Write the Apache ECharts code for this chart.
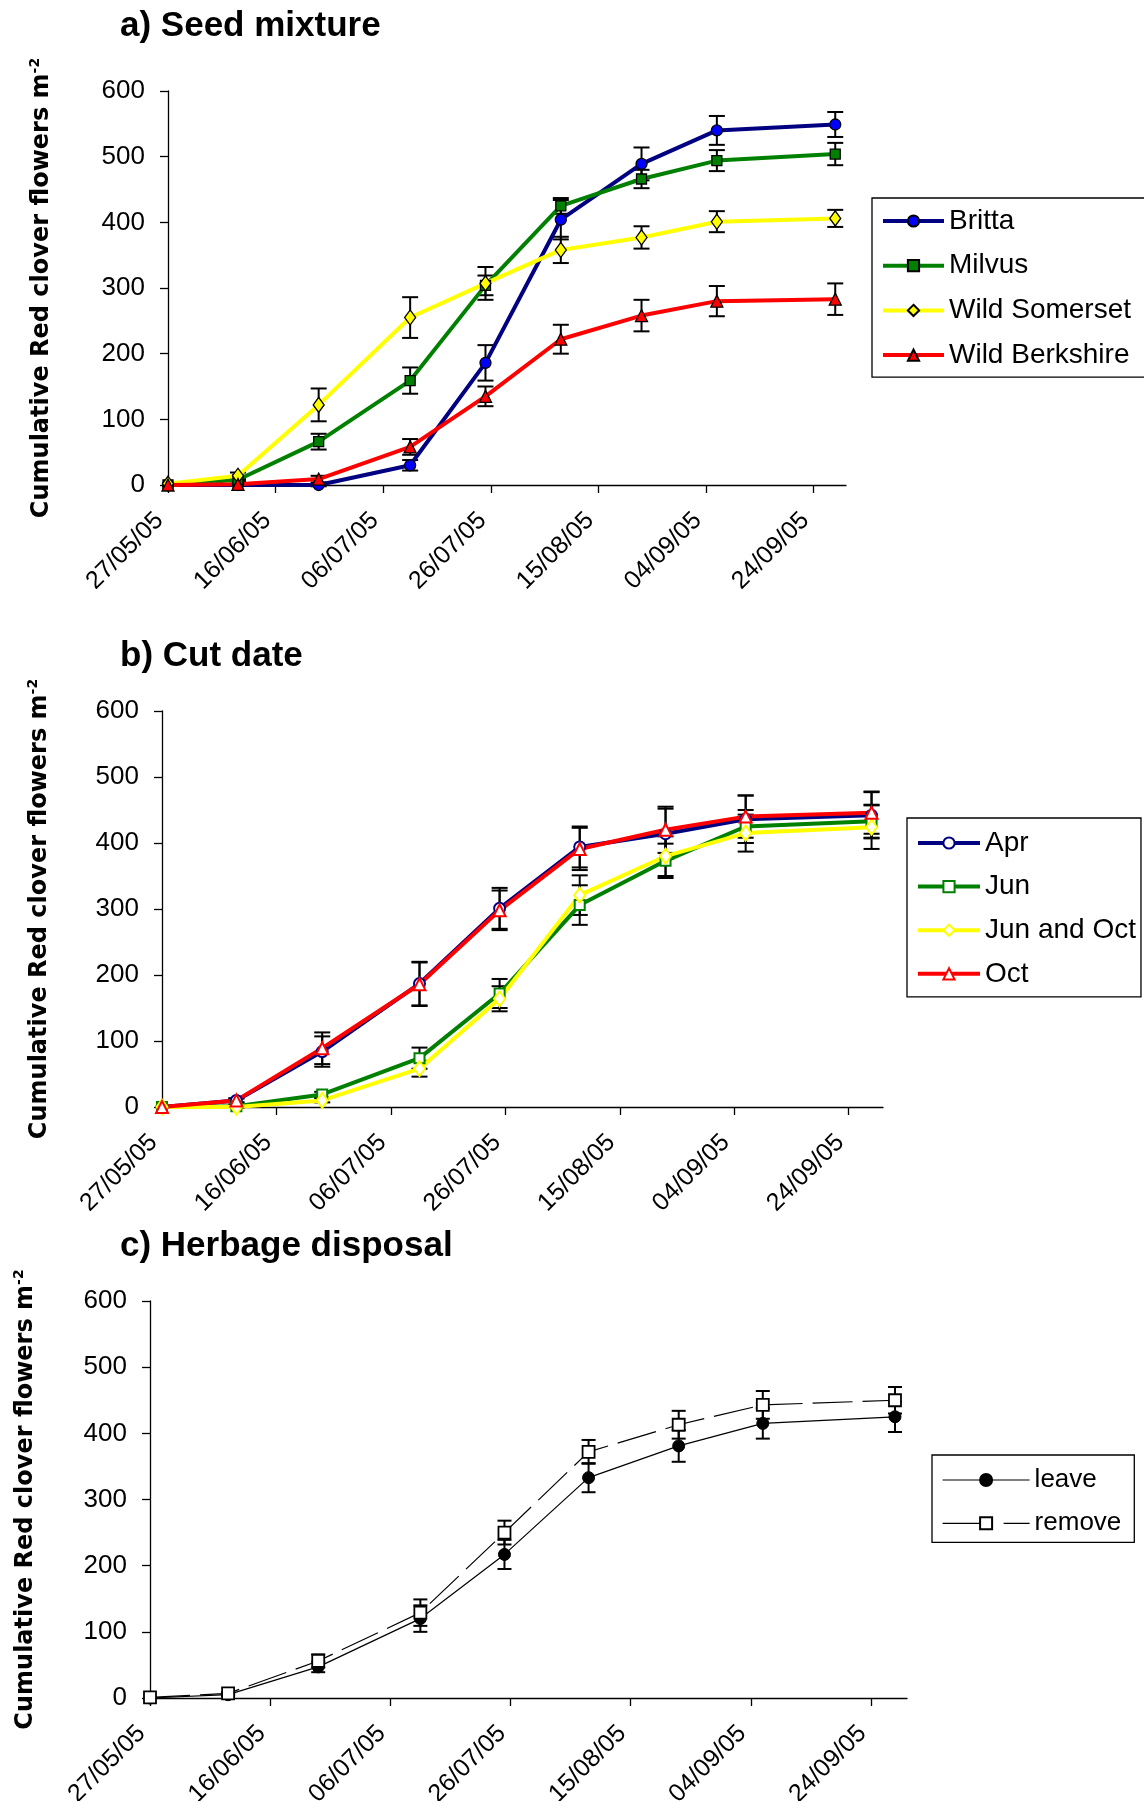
<!DOCTYPE html>
<html><head><meta charset="utf-8">
<script src="https://cdn.jsdelivr.net/npm/echarts@6/dist/echarts.min.js"></script>
<style>html,body{margin:0;padding:0;background:#fff}#c{width:1144px;height:1801px}</style>
</head><body><div id="c"></div>
<script>
// ---- data ----
const sampleDates = ['2005-05-27','2005-06-09','2005-06-24','2005-07-11','2005-07-25','2005-08-08','2005-08-23','2005-09-06','2005-09-28'];
const tickDates = ['2005-05-27','2005-06-16','2005-07-06','2005-07-26','2005-08-15','2005-09-04','2005-09-24'];
const tickLabels = ['27/05/05','16/06/05','06/07/05','26/07/05','15/08/05','04/09/05','24/09/05'];
const axisEndDate = '2005-09-30';

// a) Seed mixture
const britta      = [0, 0, 0, 30, 186, 404, 489, 540, 549];
const brittaErr   = [0, 0, 2, 8, 27, 30, 25, 22, 19];
const milvus      = [0, 8, 66, 159, 304, 425, 466, 494, 504];
const milvusErr   = [0, 2, 12, 20, 15, 12, 14, 16, 17];
const somerset    = [2, 14, 122, 255, 307, 358, 377, 401, 406];
const somersetErr = [0, 5, 25, 31, 25, 20, 17, 16, 13];
const berkshire   = [0, 1, 9, 58, 135, 222, 258, 280, 283];
const berkshireErr= [0, 1, 5, 12, 15, 22, 24, 23, 24];

// b) Cut date
const apr       = [0, 10, 84, 187, 301, 394, 414, 436, 442];
const aprErr    = [0, 3, 23, 33, 31, 31, 38, 36, 35];
const jun       = [0, 1, 19, 74, 172, 306, 373, 425, 433];
const junErr    = [0, 2, 4, 16, 22, 30, 26, 25, 25];
const junOct    = [0, 0, 10, 58, 164, 321, 380, 415, 424];
const junOctErr = [0, 1, 3, 12, 19, 30, 30, 28, 33];
const oct       = [0, 10, 89, 186, 298, 391, 420, 440, 446];
const octErr    = [0, 3, 24, 33, 30, 32, 35, 32, 32];

// c) Herbage disposal
const leave     = [0, 5, 47, 120, 217, 333, 381, 415, 425];
const leaveErr  = [0, 2, 8, 20, 22, 22, 24, 23, 23];
const remove    = [1, 7, 56, 129, 250, 372, 413, 443, 450];
const removeErr = [0, 2, 10, 20, 18, 18, 21, 21, 20];

const titles = ['a) Seed mixture', 'b) Cut date', 'c) Herbage disposal'];
const yName = 'Cumulative Red clover flowers m';

// ---- helpers ----
const t0 = Date.parse(sampleDates[0]);
const dayOf = d => Math.round((Date.parse(d) - t0) / 864e5);
const xDays = sampleDates.map(dayOf);
const tickDays = tickDates.map(dayOf);
const xMax = dayOf(axisEndDate);
const pairs = vals => vals.map((v, i) => [xDays[i], v]);
const errData = (vals, errs) => vals.map((v, i) => [xDays[i], v - errs[i], v + errs[i]]);

const FONT = "'Liberation Sans', Arial, sans-serif";

function errRender(half, lw) {
  return function (params, api) {
    const x = api.value(0), lo = api.value(1), hi = api.value(2);
    if (hi - lo <= 0) return null;
    const p1 = api.coord([x, lo]), p2 = api.coord([x, hi]);
    const s = { stroke: '#000', lineWidth: lw };
    return { type: 'group', children: [
      { type: 'line', shape: { x1: p1[0], y1: p1[1], x2: p2[0], y2: p2[1] }, style: s },
      { type: 'line', shape: { x1: p1[0] - half, y1: p1[1], x2: p1[0] + half, y2: p1[1] }, style: s },
      { type: 'line', shape: { x1: p2[0] - half, y1: p2[1], x2: p2[0] + half, y2: p2[1] }, style: s }
    ]};
  };
}
function errSeries(idx, name, vals, errs, half, lw) {
  return { name: 'err-' + name, type: 'custom', xAxisIndex: idx, yAxisIndex: idx,
    renderItem: errRender(half, lw), data: errData(vals, errs),
    encode: { x: 0, y: [1, 2] }, z: 2, silent: true, clip: false };
}

const grids = [
  { left: 168, top: 91, width: 678, height: 394, outerBoundsMode: 'none', containLabel: false },
  { left: 162, top: 711, width: 721, height: 396, outerBoundsMode: 'none', containLabel: false },
  { left: 150, top: 1301, width: 757, height: 397, outerBoundsMode: 'none', containLabel: false }
];
const nameGaps = [112, 108, 110];

const xAxes = grids.map((g, i) => ({
  type: 'value', gridIndex: i, min: 0, max: xMax,
  axisLine: { lineStyle: { color: '#000', width: 1.3 } },
  axisTick: { customValues: tickDays, length: 8, lineStyle: { color: '#000', width: 1.3 } },
  axisLabel: { customValues: tickDays, rotate: 45, fontSize: 25, margin: 23, padding: [0, 12, 0, 0],
    color: '#000', fontFamily: FONT,
    formatter: v => { const k = tickDays.indexOf(Math.round(v)); return k >= 0 ? tickLabels[k] : ''; } },
  splitLine: { show: false }
}));
const yAxes = grids.map((g, i) => ({
  type: 'value', gridIndex: i, min: 0, max: 600, interval: 100,
  axisLine: { show: true, lineStyle: { color: '#000', width: 1.3 } },
  axisTick: { show: true, length: 8, lineStyle: { color: '#000', width: 1.3 } },
  axisLabel: { fontSize: 26, margin: 23, color: '#000', fontFamily: FONT },
  splitLine: { show: false },
  name: '{t|' + yName + '}{s|-2}', nameLocation: 'middle', nameGap: nameGaps[i],
  nameTextStyle: { rich: {
    t: { fontFamily: 'DejaVu Sans', fontWeight: 'bold', fontSize: 24, color: '#000', lineHeight: 28 },
    s: { fontFamily: 'DejaVu Sans', fontWeight: 'bold', fontSize: 14, color: '#000', lineHeight: 14, verticalAlign: 'top' }
  } }
}));

function lineA(name, vals, lc, fc, sym, size) {
  return { name, type: 'line', xAxisIndex: 0, yAxisIndex: 0, data: pairs(vals),
    symbol: sym, symbolSize: size, showAllSymbol: true,
    lineStyle: { color: lc, width: 4 }, itemStyle: { color: fc, borderColor: '#000', borderWidth: 1.3 },
    z: 3 };
}
function lineB(name, vals, lc, sym, size) {
  return { name, type: 'line', xAxisIndex: 1, yAxisIndex: 1, data: pairs(vals),
    symbol: sym, symbolSize: size,
    lineStyle: { color: lc, width: 4 }, itemStyle: { color: '#fff', borderColor: lc, borderWidth: 2 },
    z: 3 };
}
const titleStyle = { fontSize: 35, fontWeight: 'bold', color: '#000', fontFamily: FONT };

const option = {
  animation: false,
  backgroundColor: '#fff',
  textStyle: { fontFamily: FONT, color: '#000' },
  title: [
    { text: titles[0], left: 120, top: 9, padding: 0, textStyle: titleStyle },
    { text: titles[1], left: 120, top: 639, padding: 0, textStyle: titleStyle },
    { text: titles[2], left: 120, top: 1229, padding: 0, textStyle: titleStyle }
  ],
  legend: [
    { data: ['Britta', 'Milvus', 'Wild Somerset', 'Wild Berkshire'], orient: 'vertical', left: 872, top: 198,
      padding: [9, 15, 8, 9], itemGap: 16.7, itemWidth: 61, itemHeight: 14, lineStyle: { width: 4 },
      borderColor: '#000', borderWidth: 1.3, textStyle: { fontSize: 28, color: '#000', fontFamily: FONT } },
    { data: ['Apr', 'Jun', 'Jun and Oct', 'Oct'], orient: 'vertical', left: 907, top: 818,
      padding: [11, 5, 9, 9], itemGap: 15.6, itemWidth: 62, itemHeight: 14, lineStyle: { width: 4 },
      borderColor: '#000', borderWidth: 1.3, textStyle: { fontSize: 28, color: '#000', fontFamily: FONT } },
    { data: ['leave', { name: 'remove', lineStyle: { type: [49, 12] } }], orient: 'vertical', left: 932, top: 1455,
      padding: [12, 13, 6, 10], itemGap: 17.3, itemWidth: 87, itemHeight: 15, lineStyle: { width: 1.2 },
      borderColor: '#000', borderWidth: 1.3, textStyle: { fontSize: 26, color: '#000', fontFamily: FONT } }
  ],
  grid: grids,
  xAxis: xAxes,
  yAxis: yAxes,
  series: [
    errSeries(0, 'Britta', britta, brittaErr, 8, 2),
    errSeries(0, 'Milvus', milvus, milvusErr, 8, 2),
    errSeries(0, 'Wild Somerset', somerset, somersetErr, 8, 2),
    errSeries(0, 'Wild Berkshire', berkshire, berkshireErr, 8, 2),
    lineA('Britta', britta, '#000080', '#0000FF', 'circle', 11),
    lineA('Milvus', milvus, '#008000', '#008000', 'rect', 10),
    lineA('Wild Somerset', somerset, '#FFFF00', '#FFFF00', 'diamond', [11, 15]),
    lineA('Wild Berkshire', berkshire, '#FF0000', '#FF0000', 'triangle', 12),

    errSeries(1, 'Apr', apr, aprErr, 8, 2),
    errSeries(1, 'Jun', jun, junErr, 8, 2),
    errSeries(1, 'Jun and Oct', junOct, junOctErr, 8, 2),
    errSeries(1, 'Oct', oct, octErr, 8, 2),
    lineB('Apr', apr, '#000080', 'circle', 11),
    lineB('Jun', jun, '#008000', 'rect', 10),
    lineB('Jun and Oct', junOct, '#FFFF00', 'diamond', [11, 15]),
    lineB('Oct', oct, '#FF0000', 'triangle', 12),

    errSeries(2, 'leave', leave, leaveErr, 7, 2),
    errSeries(2, 'remove', remove, removeErr, 7, 2),
    { name: 'leave', type: 'line', xAxisIndex: 2, yAxisIndex: 2, data: pairs(leave),
      symbol: 'circle', symbolSize: 12, lineStyle: { color: '#000', width: 1.2 },
      itemStyle: { color: '#000', borderColor: '#000', borderWidth: 1 }, z: 3 },
    { name: 'remove', type: 'line', xAxisIndex: 2, yAxisIndex: 2, data: pairs(remove),
      symbol: 'rect', symbolSize: 12, lineStyle: { color: '#000', width: 1.2, type: [40, 10] },
      itemStyle: { color: '#fff', borderColor: '#000', borderWidth: 1.8 }, z: 3 }
  ]
};
const chart = echarts.init(document.getElementById('c'), null, { renderer: 'canvas' });
chart.setOption(option);
</script>
</body></html>
